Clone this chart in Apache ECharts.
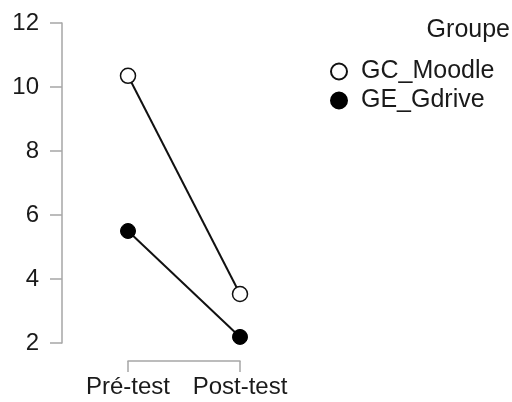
<!DOCTYPE html>
<html>
<head>
<meta charset="utf-8">
<script src="https://cdn.jsdelivr.net/npm/echarts@6/dist/echarts.min.js"></script>
<style>
  html, body { margin: 0; padding: 0; background: #fff; }
  #chart { width: 512px; height: 402px; }
</style>
</head>
<body>
<div id="chart"></div>
<script>
// moments de mesure
const periodes = ['Pré-test', 'Post-test']
// moyennes par groupe
const gcMoodle = [10.35, 3.53]
const geGdrive = [5.5, 2.19]
const groupes = ['GC_Moodle', 'GE_Gdrive']

const chart = echarts.init(document.getElementById('chart'))
const font = 'Liberation Sans, Arial, sans-serif'
const axisGray = '#a6a6a6'

chart.setOption({
  animation: false,
  textStyle: { fontFamily: font },
  title: {
    text: 'Groupe',
    right: 2,
    top: 18,
    padding: 0,
    textStyle: { fontFamily: font, fontSize: 25, fontWeight: 'normal', color: '#1a1a1a' }
  },
  legend: {
    data: groupes,
    orient: 'vertical',
    left: 325,
    top: 54,
    itemWidth: 30,
    itemHeight: 16,
    itemGap: 4,
    icon: 'circle',
    textStyle: { fontFamily: font, fontSize: 25, color: '#1a1a1a', padding: [0, 0, 0, 2] }
  },
  grid: { left: 128, right: 272, top: 23, bottom: 59, containLabel: false },
  xAxis: {
    type: 'category',
    data: periodes,
    boundaryGap: false,
    offset: 18,
    axisLine: { lineStyle: { color: axisGray, width: 1.5 } },
    axisTick: { length: 11, interval: 0, lineStyle: { color: axisGray, width: 1.5 } },
    axisLabel: { fontSize: 24, color: '#1a1a1a', margin: 14, interval: 0, hideOverlap: false, fontFamily: font }
  },
  yAxis: {
    type: 'value',
    min: 2,
    max: 12,
    interval: 2,
    offset: 66,
    splitLine: { show: false },
    axisLine: { show: true, lineStyle: { color: axisGray, width: 1.5 } },
    axisTick: { show: true, length: 12, lineStyle: { color: axisGray, width: 1.5 } },
    axisLabel: { fontSize: 24, color: '#1a1a1a', margin: 23, fontFamily: font }
  },
  series: [
    {
      name: 'GC_Moodle',
      type: 'line',
      data: gcMoodle,
      symbol: 'circle',
      symbolSize: 15,
      lineStyle: { color: '#111', width: 2 },
      itemStyle: { color: '#fff', borderColor: '#111', borderWidth: 1.5 }
    },
    {
      name: 'GE_Gdrive',
      type: 'line',
      data: geGdrive,
      symbol: 'circle',
      symbolSize: 15,
      lineStyle: { color: '#111', width: 2 },
      itemStyle: { color: '#000', borderColor: '#000', borderWidth: 1 }
    }
  ]
})
</script>
</body>
</html>
